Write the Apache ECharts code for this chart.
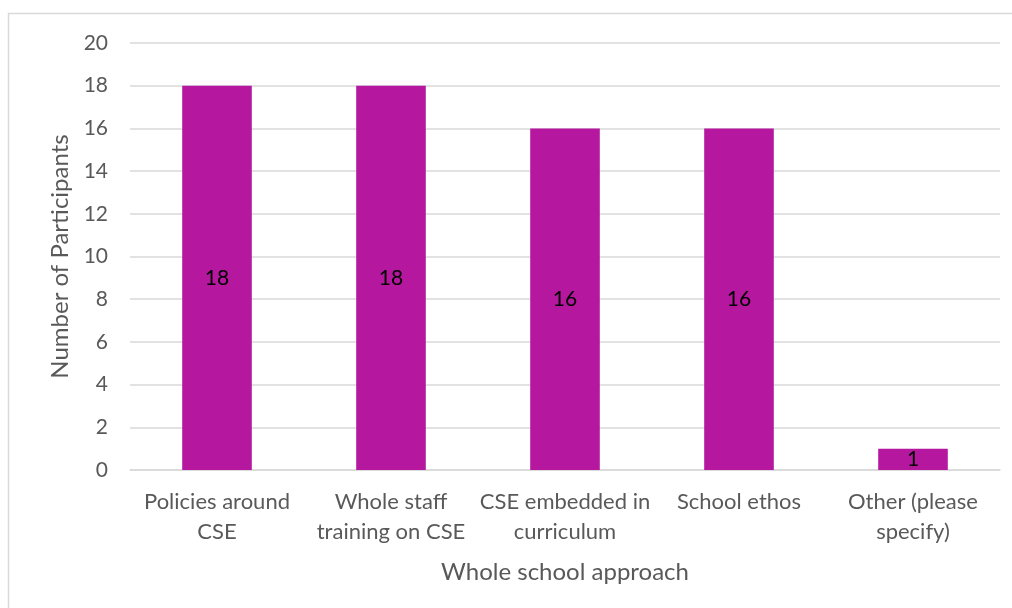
<!DOCTYPE html>
<html>
<head>
<meta charset="utf-8">
<script src="https://cdn.jsdelivr.net/npm/echarts@6/dist/echarts.min.js"></script>
<style>
  html, body { margin: 0; padding: 0; background: #fff; }
  #chart { width: 1012px; height: 608px; }
</style>
</head>
<body>
<div id="chart"></div>
<script>
// Whole school approach: number of participants per approach
const categories = [
  'Policies around\nCSE',
  'Whole staff\ntraining on CSE',
  'CSE embedded in\ncurriculum',
  'School ethos',
  'Other (please\nspecify)'
];
const participants = [18, 18, 16, 16, 1];
const yTicks = { min: 0, max: 20, interval: 2 };

const FONT = 'Lato, "Open Sans", "Liberation Sans", sans-serif';
const chart = echarts.init(document.getElementById('chart'), null, { renderer: 'canvas' });

chart.setOption({
  backgroundColor: '#ffffff',
  animation: false,
  graphic: [{
    type: 'rect',
    shape: { x: 8.5, y: 13.5, width: 1100, height: 700 },
    style: { fill: 'none', stroke: '#d9d9d9', lineWidth: 1.5 },
    silent: true
  }],
  grid: { left: 130, right: 12, top: 43, bottom: 138 },
  xAxis: {
    type: 'category',
    data: categories,
    name: 'Whole school approach',
    nameLocation: 'middle',
    nameGap: 90,
    nameTextStyle: { fontFamily: FONT, fontSize: 24, color: '#595959' },
    axisLine: { show: true, lineStyle: { color: '#d9d9d9', width: 1.5 } },
    axisTick: { show: false },
    axisLabel: {
      interval: 0,
      margin: 17,
      fontFamily: FONT,
      fontSize: 22,
      lineHeight: 30,
      color: '#595959'
    }
  },
  yAxis: {
    type: 'value',
    min: yTicks.min,
    max: yTicks.max,
    interval: yTicks.interval,
    name: 'Number of Participants',
    nameLocation: 'middle',
    nameGap: 57,
    nameTextStyle: { fontFamily: FONT, fontSize: 24, color: '#595959' },
    axisLine: { show: false },
    axisTick: { show: false },
    axisLabel: { margin: 22, fontFamily: FONT, fontSize: 21, color: '#595959' },
    splitLine: { lineStyle: { color: '#d9d9d9', width: 1.5 } }
  },
  series: [{
    type: 'bar',
    data: participants,
    barWidth: '40%',
    itemStyle: { color: '#b5179e' },
    label: {
      show: true,
      position: 'inside',
      fontFamily: FONT,
      fontSize: 21,
      color: '#000000'
    }
  }]
});
</script>
</body>
</html>
